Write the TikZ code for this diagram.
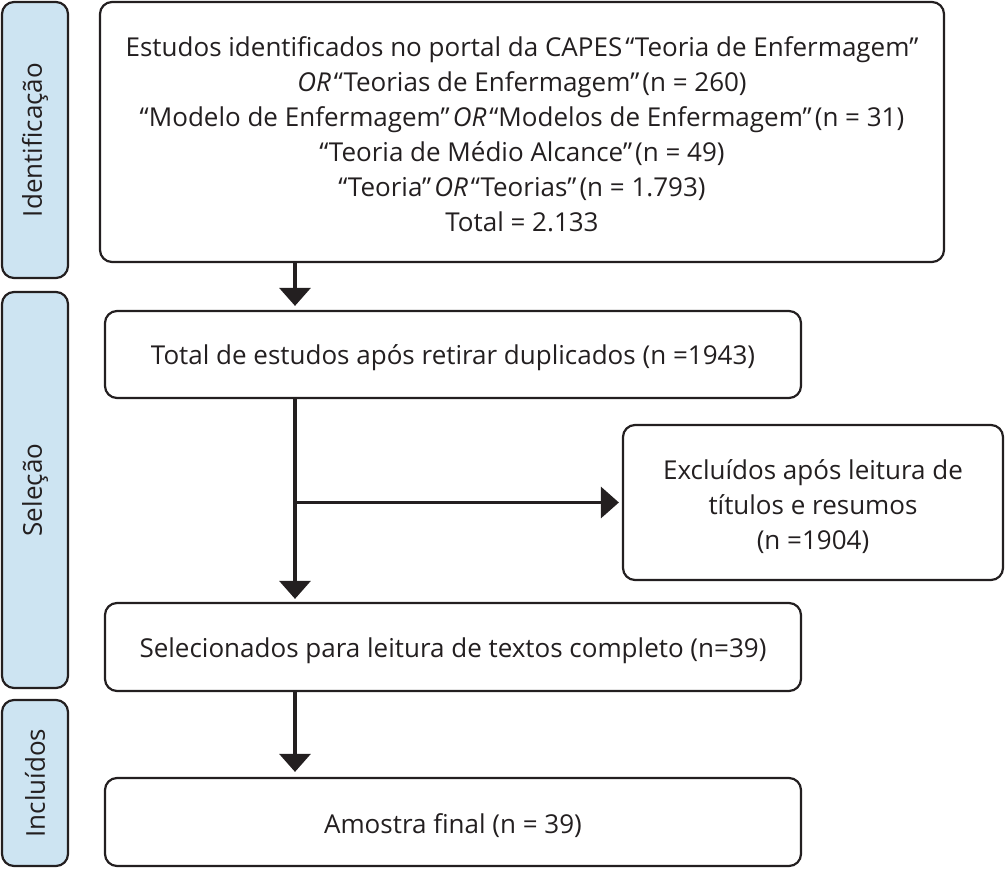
\documentclass[tikz,border=0pt]{standalone}
\usepackage{fontspec}
\setmainfont{Open Sans}
\usetikzlibrary{arrows.meta}
\definecolor{ink}{HTML}{231F20}
\definecolor{sidefill}{HTML}{CDE4F2}
\newcommand{\fs}{\fontsize{26}{35}\selectfont}
\newcommand{\qg}{\kern3pt}
\tikzset{
  box/.style={draw=ink, line width=2.2pt, rounded corners=12pt, inner sep=0pt},
  side/.style={box, fill=sidefill},
  label text/.style={text=ink, align=center, font=\fs, inner sep=0pt},
  sidetext/.style={rotate=90, text=ink, font=\fs},
  arr/.style={draw=ink, line width=3.2pt, -{Triangle[width=31pt,length=18pt]}}
}
\begin{document}
\begin{tikzpicture}[x=1pt,y=-1pt]
\useasboundingbox (0,0) rectangle (1005,869);
% side bars
\node[side, minimum width=66pt, minimum height=276pt] (s1) at (35,140) {};
\node[sidetext] (t1) at (s1.center) {Identificação};
\node[side, minimum width=66pt, minimum height=396pt] (s2) at (35,490) {};
\node[sidetext] (t2) at (s2.center) {Seleção};
\node[side, minimum width=66pt, minimum height=166pt] (s3) at (35,783) {};
\node[sidetext] (t3) at (s3.center) {Incluídos};
% boxes
\node[box, minimum width=844pt, minimum height=260pt] (b1) at (522,132) {};
\node[label text] (b1t) at ([yshift=-2pt]b1.center)
  {Estudos identificados no portal da CAPES\qg“Teoria de Enfermagem”\\
   \textit{OR}\qg“Teorias de Enfermagem”\qg(n = 260)\\
   “Modelo de Enfermagem”\qg\textit{OR}\qg“Modelos de Enfermagem”\qg(n = 31)\\
   “Teoria de Médio Alcance”\qg(n = 49)\\
   “Teoria”\qg\textit{OR}\qg“Teorias”\qg(n = 1.793)\\
   Total = 2.133};
\node[box, minimum width=696pt, minimum height=87pt] (b2) at (453,354.5) {};
\node[label text] (b2t) at ([yshift=-3.5pt]b2.center) {Total de estudos após retirar duplicados (n =1943)};
\node[box, minimum width=380pt, minimum height=155pt] (b3) at (813,502.5) {};
\node[label text] (b3t) at ([yshift=-4pt]b3.center) {Excluídos após leitura de\\títulos e resumos\\(n =1904)};
\node[box, minimum width=696pt, minimum height=88pt] (b4) at (453,647) {};
\node[label text] (b4t) at ([yshift=-4pt]b4.center) {Selecionados para leitura de textos completo (n=39)};
\node[box, minimum width=696pt, minimum height=88pt] (b5) at (453,822) {};
\node[label text] (b5t) at ([yshift=-4pt]b5.center) {Amostra final (n = 39)};
% connectors
\coordinate (v) at (295,0);
\coordinate (j) at (v |- b3.west);
\draw[arr] (b1.south -| v) -- ([yshift=4pt]b2.north -| v);
\draw[arr] (b2.south -| v) -- ([yshift=3pt]b4.north -| v);
\draw[arr] (j) -- ([xshift=-3pt]b3.west);
\draw[arr] (b4.south -| v) -- ([yshift=5pt]b5.north -| v);
\end{tikzpicture}
\end{document}
